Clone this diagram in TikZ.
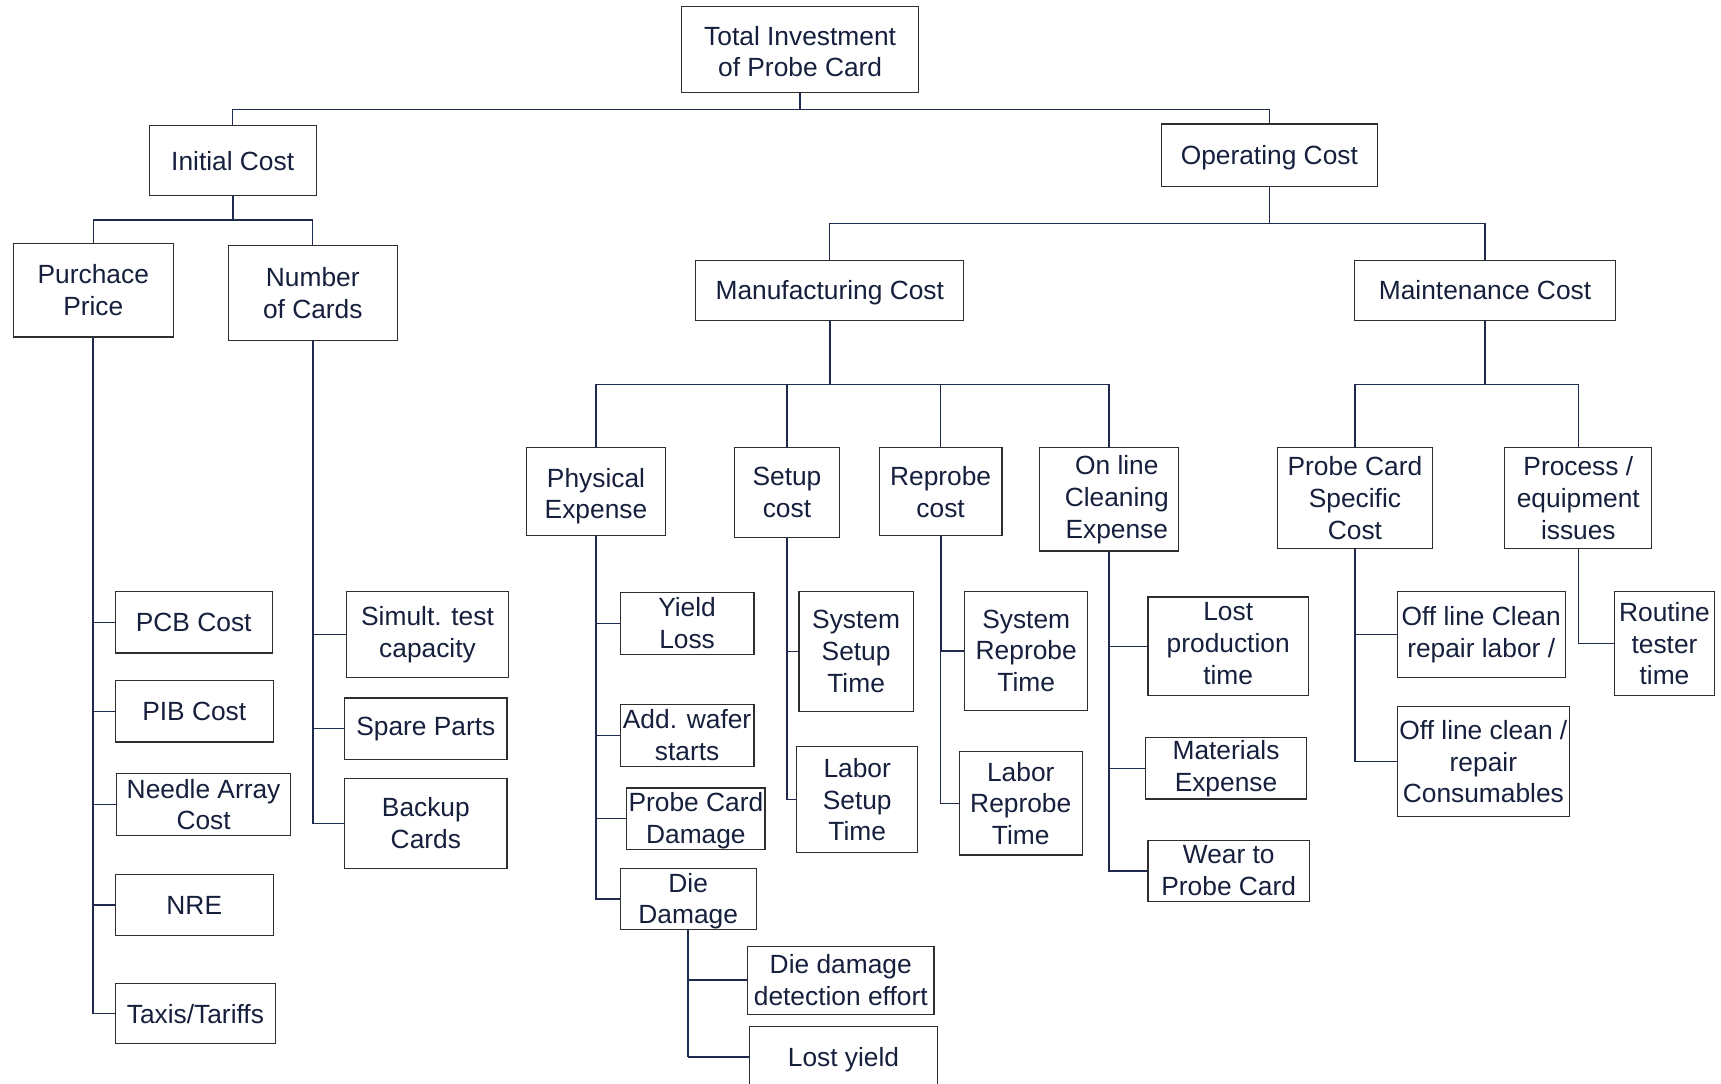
\documentclass[tikz,border=0pt]{standalone}
\usepackage{fontspec}
\setmainfont{Liberation Sans}
\definecolor{txtnavy}{HTML}{16203D}
\definecolor{linenavy}{HTML}{1E2B4E}
\definecolor{boxedge}{HTML}{2E2E2E}
% invisible struts that nudge a label down (taller first line) or up (deeper last line)
\newcommand\lowerby[1]{\rule{0pt}{\dimexpr17.5pt+#1+#1\relax}}
\newcommand\raiseby[1]{\rule[-\dimexpr#1+#1\relax]{0pt}{0pt}}
\begin{document}
\begin{tikzpicture}[x=1pt,y=-1pt,
  box/.style={draw=boxedge, line width=1.1pt, fill=white, inner sep=0pt,
    align=center, text=txtnavy, font=\fontsize{24}{29}\selectfont},
  conn/.style={draw=linenavy, line width=1.2pt},
  trunk/.style={draw=linenavy, line width=1.8pt}]
\useasboundingbox[fill=white] (0,0) rectangle (1568,987);

% --- boxes ---
% level 0 / 1
\node[box, minimum width=216, minimum height=78] (tot) at (729,45) {\lowerby{2pt}Total Investment\\of Probe Card};
\node[box, minimum width=152, minimum height=64] (ini) at (212,146) {\lowerby{1pt}Initial Cost};
\node[box, minimum width=197, minimum height=57] (ope) at (1156.5,141.5) {\lowerby{2pt}Operating Cost};

% initial cost branch
\node[box, minimum width=146, minimum height=85] (pur) at (85,264.5) {Purchace\\Price};
\node[box, minimum width=154, minimum height=86] (num) at (285,267) {Number\\of Cards};
\node[box, minimum width=143, minimum height=56] (pcb) at (176.5,567) {PCB Cost};
\node[box, minimum width=144, minimum height=56] (pib) at (177,648) {PIB Cost};
\node[box, minimum width=159, minimum height=56] (nee) at (185.5,733) {Needle Array\\Cost};
\node[box, minimum width=144, minimum height=55] (nre) at (177,824.5) {NRE};
\node[box, minimum width=146, minimum height=55] (tax) at (178,923.5) {Taxis/Tariffs};
\node[box, minimum width=147, minimum height=78] (sim) at (389.5,578) {Simult. test\\capacity};
\node[box, minimum width=148, minimum height=56] (spa) at (388,664) {Spare Parts};
\node[box, minimum width=148, minimum height=82] (bac) at (388,750) {Backup\\Cards};

% operating cost branch
\node[box, minimum width=244, minimum height=55] (man) at (756,264.5) {\lowerby{2pt}Manufacturing Cost};
\node[box, minimum width=238, minimum height=55] (mai) at (1353,264.5) {Maintenance Cost};

\node[box, minimum width=126, minimum height=80] (phy) at (543,448) {\lowerby{4pt}Physical\\Expense};
\node[box, minimum width=96, minimum height=82] (set) at (717,449) {Setup\\cost};
\node[box, minimum width=112, minimum height=80] (rep) at (857,448) {Reprobe\\cost};
\node[box, minimum width=127, minimum height=94] (onl) at (1010.5,455) {\hspace*{14pt}On line\\\hspace*{14pt}Cleaning\\\hspace*{14pt}Expense};
\node[box, minimum width=141, minimum height=92] (pcs) at (1234.5,454) {Probe Card\\Specific\\Cost};
\node[box, minimum width=134, minimum height=92] (pro) at (1438,454) {Process /\\equipment\\issues};

\node[box, minimum width=122, minimum height=56] (yie) at (626,568) {Yield\\Loss};
\node[box, minimum width=122, minimum height=56] (add) at (626,670) {Add. wafer\\starts};
\node[box, minimum width=126, minimum height=56] (pcd) at (634,746) {\lowerby{2pt}Probe Card\\Damage};
\node[box, minimum width=124, minimum height=56] (die) at (627,819) {\lowerby{2pt}Die\\Damage};
\node[box, minimum width=170, minimum height=62] (ddd) at (766,893) {Die damage\\detection effort};
\node[box, minimum width=171, minimum height=56] (los) at (768.5,963) {\lowerby{2pt}Lost yield};

\node[box, minimum width=104, minimum height=109] (sst) at (780,593.5) {System\\Setup\\Time};
\node[box, minimum width=110, minimum height=97] (lst) at (781,728.5) {Labor\\Setup\\Time};
\node[box, minimum width=112, minimum height=108] (srt) at (935,593) {System\\Reprobe\\Time};
\node[box, minimum width=112, minimum height=94] (lrt) at (930,732) {Labor\\Reprobe\\Time};

\node[box, minimum width=146, minimum height=90] (lpt) at (1119,589) {Lost\\production\\time\raiseby{3pt}};
\node[box, minimum width=146, minimum height=56] (mat) at (1117,700) {Materials\\Expense};
\node[box, minimum width=147, minimum height=55] (wea) at (1119.5,793.5) {Wear to\\Probe Card};

\node[box, minimum width=153, minimum height=78] (ofl) at (1349.5,578) {Off line Clean\\repair labor /};
\node[box, minimum width=157, minimum height=100] (ofc) at (1351.5,694) {Off line clean /\\repair\\Consumables};
\node[box, minimum width=91, minimum height=95] (rou) at (1516.5,586.5) {Routine\\tester\\time};

% --- tree connectors, from each parent to its children ---
\draw[conn] (tot.south) -- ++(0,15) coordinate (bt) -| (ini.north);
\draw[conn] (bt) -| (ope.north);

\draw[trunk] (ini.south) -- ++(0,22) coordinate (bi);
\draw[conn] (bi) -| (pur.north);
\draw[conn] (bi) -| (num.north);

\draw[trunk] (pur.south) -- (pur.south |- tax.west);
\foreach \leaf in {pcb,pib,nee,nre,tax} \draw[conn] (pur.south) |- (\leaf.west);
\draw[trunk] (num.south) -- (num.south |- bac.west);
\foreach \leaf in {sim,spa,bac} \draw[conn] (num.south) |- (\leaf.west);

\draw[conn] (ope.south) -- ++(0,33) coordinate (bo) -| (man.north);
\draw[conn] (bo) -| (mai.north);

\draw[trunk] (man.south) -- ++(0,58) coordinate (bm);
\foreach \sub in {phy,set,rep,onl} \draw[conn] (bm) -| (\sub.north);

\draw[trunk] (mai.south) -- ++(0,58) coordinate (bn);
\draw[conn] (bn) -| (pcs.north);
\draw[conn] (bn) -| (pro.north);

\draw[trunk] (phy.south) -- (phy.south |- die.west);
\foreach \leaf in {yie,add,pcd,die} \draw[conn] (phy.south) |- (\leaf.west);
\draw[trunk] (die.south) -- (die.south |- los.west);
\foreach \leaf in {ddd,los} \draw[conn] (die.south) |- (\leaf.west);

\foreach \leaf in {sst,lst} \draw[conn] (set.south) |- (\leaf.west);
\draw[trunk] (rep.south) -- (rep.south |- srt.west);
\foreach \leaf in {srt,lrt} \draw[conn] (rep.south) |- (\leaf.west);
\draw[trunk] (onl.south) -- (onl.south |- lpt.west);
\foreach \leaf in {lpt,mat,wea} \draw[conn] (onl.south) |- (\leaf.west);

\draw[trunk] (pcs.south) -- (pcs.south |- ofl.west);
\foreach \leaf in {ofl,ofc} \draw[conn] (pcs.south) |- (\leaf.west);
\draw[conn] (pro.south) |- (rou.west);
\end{tikzpicture}
\end{document}
